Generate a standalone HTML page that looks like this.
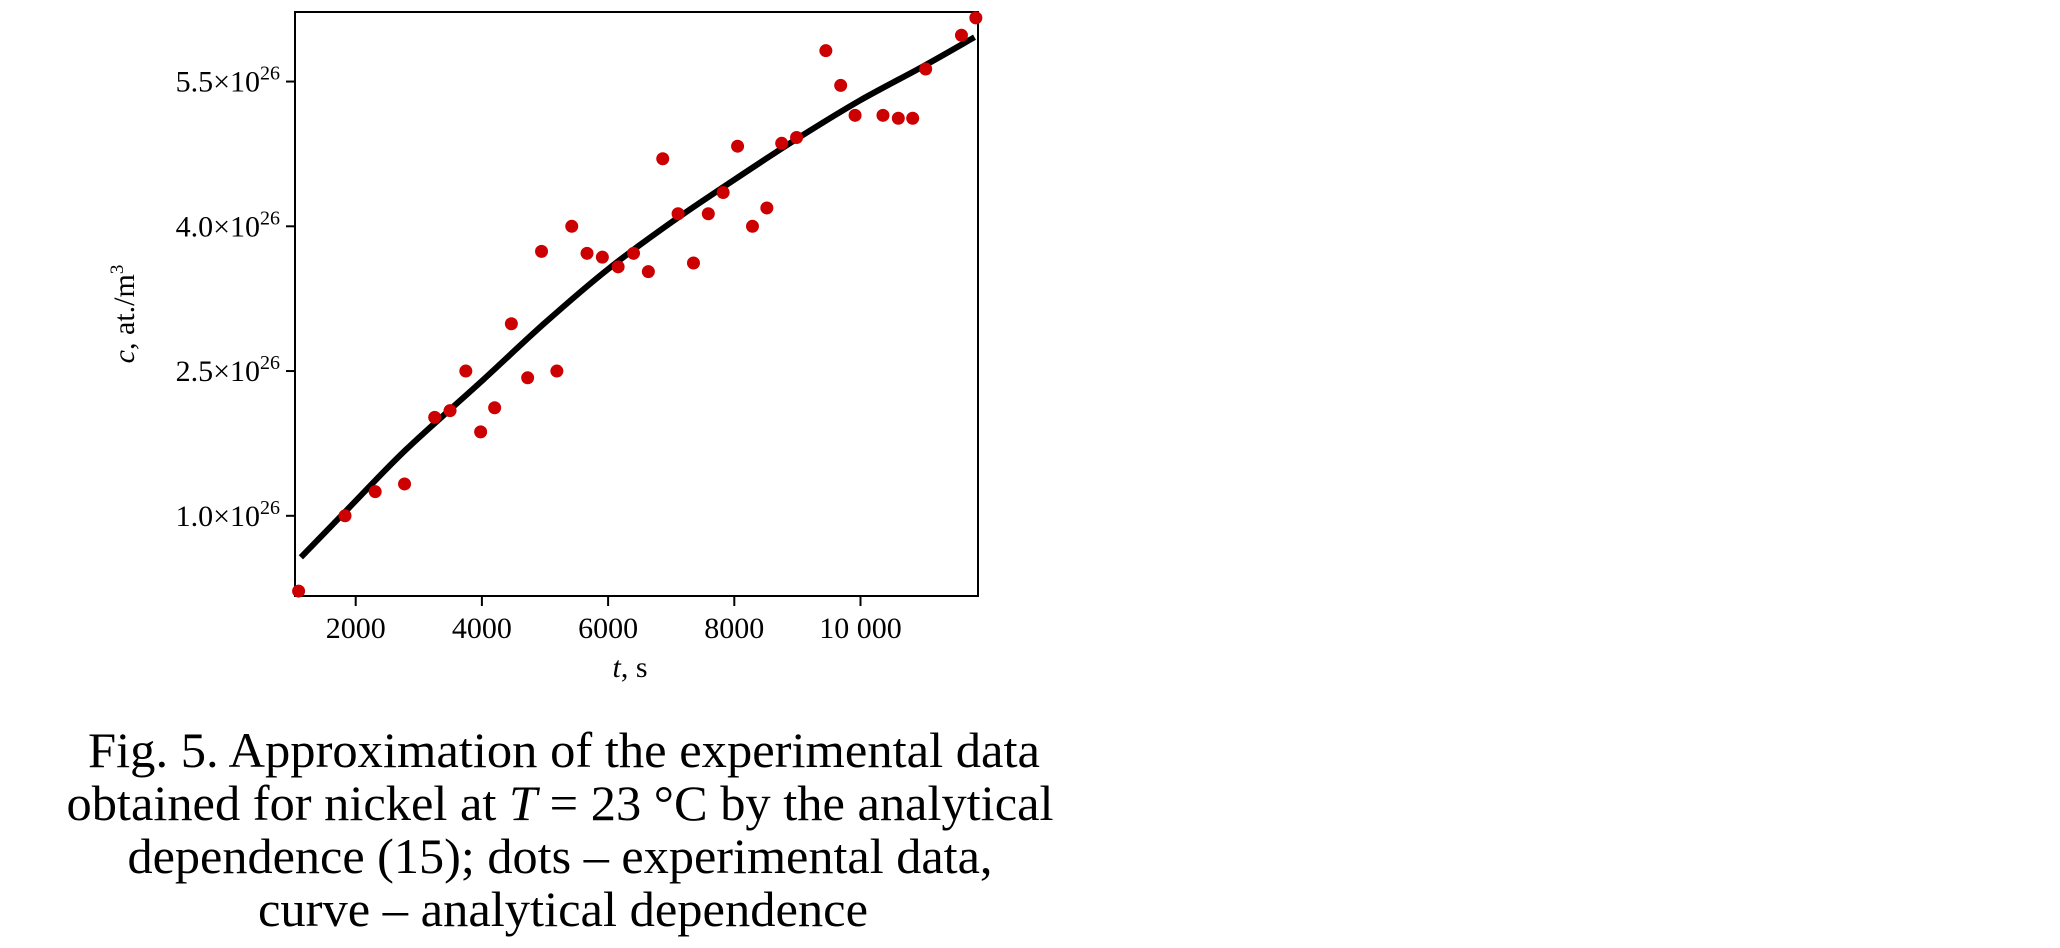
<!DOCTYPE html>
<html><head><meta charset="utf-8"><style>
html,body{margin:0;padding:0;background:#fff;}
svg{display:block;font-family:"Liberation Serif",serif;}
</style></head><body>
<svg id="chart" width="2060" height="948" viewBox="0 0 2060 948" xmlns="http://www.w3.org/2000/svg">
<rect x="295" y="12" width="683" height="584" fill="#fff" stroke="#000" stroke-width="2"/>
<g id="xticks"></g>
<g id="yticks"></g>
<g id="curve"></g>
<g id="dots"></g>
<text x="630" y="677" font-size="30" text-anchor="middle"><tspan font-style="italic">t</tspan>, s</text>
<text transform="translate(134,314) rotate(-90)" font-size="30" text-anchor="middle"><tspan font-style="italic">c</tspan>, at./m<tspan font-size="19" dy="-11">3</tspan></text>
<g font-size="50" text-anchor="middle">
<text x="564" y="767" textLength="952" lengthAdjust="spacingAndGlyphs">Fig. 5. Approximation of the experimental data</text>
<text x="560" y="820" textLength="987" lengthAdjust="spacingAndGlyphs">obtained for nickel at <tspan font-style="italic">T</tspan> = 23 °C by the analytical</text>
<text x="560" y="873" textLength="865" lengthAdjust="spacingAndGlyphs">dependence (15); dots – experimental data,</text>
<text x="563" y="926" textLength="610" lengthAdjust="spacingAndGlyphs">curve – analytical dependence</text>
</g>
</svg>
<script>
const xTicks = [2000, 4000, 6000, 8000, 10000];
const xTickLabels = ["2000", "4000", "6000", "8000", "10 000"];
const yTicks = [1.0, 2.5, 4.0, 5.5];
const yTickLabels = ["1.0", "2.5", "4.0", "5.5"];
const dotT = [1095,1831,2309,2774,3252,3495,3745,3980,4202,4467,4725,4945,5188,5424,5666,5909,6159,6403,6638,6866,7109,7353,7588,7823,8052,8288,8516,8751,8987,9451,9686,9914,10356,10599,10827,11033,11600,11828];
const dotC = [0.22,1.0,1.25,1.33,2.02,2.09,2.50,1.87,2.12,2.99,2.43,3.74,2.50,4.0,3.72,3.68,3.58,3.72,3.53,4.70,4.13,3.62,4.13,4.35,4.83,4.0,4.19,4.86,4.92,5.82,5.46,5.15,5.15,5.12,5.12,5.63,5.98,6.16];
const curveT = [1132,1831,2788,3988,5000,6006,7000,7993,9000,9981,11000,11807];
const curveC = [0.57,1.04,1.68,2.39,3.0,3.56,4.04,4.48,4.91,5.30,5.66,5.96];

const NS = "http://www.w3.org/2000/svg";
function xs(t){ return 229.5 + t * 0.0631; }
function ys(c){ return 515.8 - (c - 1) * 96.5; }
function mk(tag, attrs, parent){ const e=document.createElementNS(NS,tag); for(const k in attrs) e.setAttribute(k,attrs[k]); parent.appendChild(e); return e; }

const gx = document.getElementById('xticks');
xTicks.forEach((v,i)=>{
  const x = xs(v);
  const l = mk('line',{x1:x,x2:x,y1:596,y2:606,stroke:'#000','stroke-width':2},gx);
  
  
  const t = mk('text',{x:x,y:638,'font-size':30,'text-anchor':'middle'},gx);
  
  
  t.textContent = xTickLabels[i];
});
const gy = document.getElementById('yticks');
yTicks.forEach((v,i)=>{
  const y = ys(v);
  const l = mk('line',{x1:286,x2:295,y1:y,y2:y,stroke:'#000','stroke-width':2},gy);
  
  
  const t = mk('text',{x:280,y:y+10,'font-size':30,'text-anchor':'end'},gy);
  
  
  const a = document.createElementNS(NS,'tspan'); a.textContent = yTickLabels[i] + '×10'; t.appendChild(a);
  const b = document.createElementNS(NS,'tspan'); b.setAttribute('font-size','20'); b.setAttribute('dy','-12'); b.textContent='26'; t.appendChild(b);
});
const gc = document.getElementById('curve');
const P = curveT.map((t,i)=>[xs(t), ys(curveC[i])]);
let d = 'M' + P[0][0].toFixed(1) + ' ' + P[0][1].toFixed(1);
for (let i=0;i<P.length-1;i++){
  const p0=P[Math.max(0,i-1)], p1=P[i], p2=P[i+1], p3=P[Math.min(P.length-1,i+2)];
  const c1x=p1[0]+(p2[0]-p0[0])/6, c1y=p1[1]+(p2[1]-p0[1])/6;
  const c2x=p2[0]-(p3[0]-p1[0])/6, c2y=p2[1]-(p3[1]-p1[1])/6;
  d += ' C'+c1x.toFixed(1)+' '+c1y.toFixed(1)+' '+c2x.toFixed(1)+' '+c2y.toFixed(1)+' '+p2[0].toFixed(1)+' '+p2[1].toFixed(1);
}
const p = mk('path',{d:d,fill:'none',stroke:'#000','stroke-width':6,'stroke-linejoin':'round'},gc);


const gd = document.getElementById('dots');
dotT.forEach((t,i)=>{
  const c = mk('circle',{cx:xs(t),cy:ys(dotC[i]),r:6.5,fill:'#cc0000'},gd);
  
  
});
</script>
</body></html>
